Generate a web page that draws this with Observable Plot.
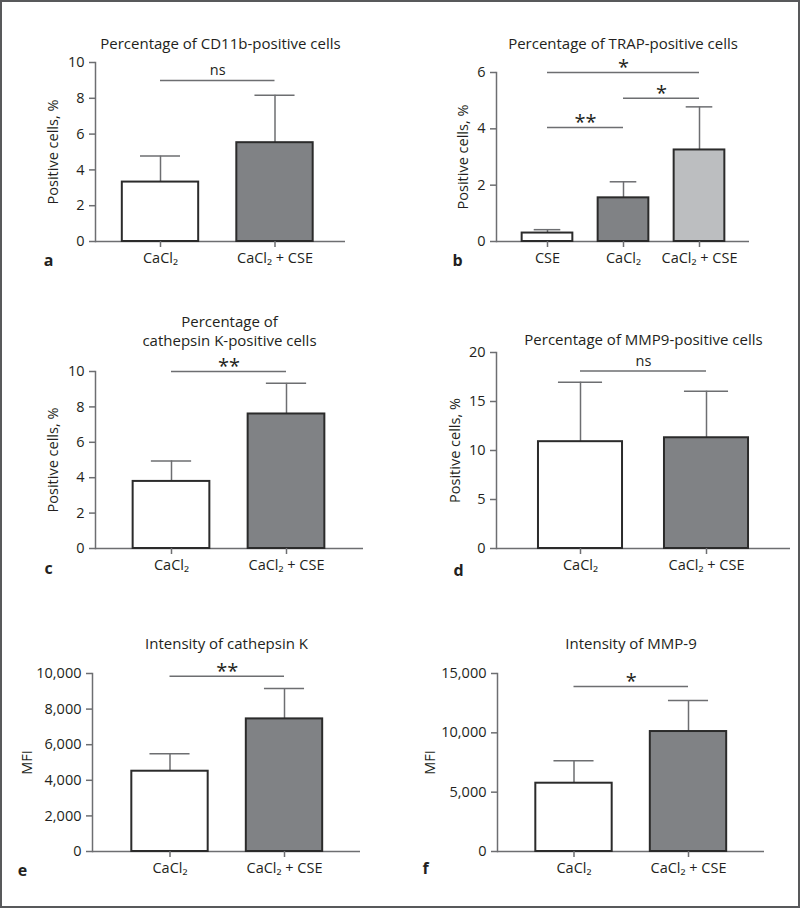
<!DOCTYPE html>
<html>
<head>
<meta charset="utf-8">
<script src="https://cdn.jsdelivr.net/npm/d3@7"></script>
<script src="https://cdn.jsdelivr.net/npm/@observablehq/plot@0.6"></script>
<style>
  html, body { margin: 0; padding: 0; background: #fff; }
  #wrap { position: relative; width: 800px; height: 908px; overflow: hidden; font-family: "Open Sans", sans-serif; }
  #border { position: absolute; left: 0; top: 0; width: 800px; height: 908px; box-sizing: border-box; border: 2px solid #58595b; pointer-events: none; }
  .panel { position: absolute; }
</style>
</head>
<body>
<div id="wrap"><div id="border"></div></div>
<script>
// ---------- data ----------
// a: CD11b
const catsA = ["CaCl₂", "CaCl₂ + CSE"];
const meanA = [3.32, 5.52];
const sdA = [1.45, 2.65];
const sigLabelA = ["ns"], sigFromA = [0], sigToA = [1], sigLevelA = [9.0];
const yTicksA = [0, 2, 4, 6, 8, 10];

// b: TRAP
const catsB = ["CSE", "CaCl₂", "CaCl₂ + CSE"];
const meanB = [0.30, 1.55, 3.25];
const sdB = [0.12, 0.57, 1.53];
const sigLabelB = ["**", "*", "*"], sigFromB = [0, 1, 0], sigToB = [1, 2, 2], sigLevelB = [4.05, 5.09, 6.0];
const yTicksB = [0, 2, 4, 6];

// c: cathepsin K-positive
const catsC = ["CaCl₂", "CaCl₂ + CSE"];
const meanC = [3.79, 7.6];
const sdC = [1.16, 1.73];
const sigLabelC = ["**"], sigFromC = [0], sigToC = [1], sigLevelC = [10.0];
const yTicksC = [0, 2, 4, 6, 8, 10];

// d: MMP9-positive
const catsD = ["CaCl₂", "CaCl₂ + CSE"];
const meanD = [10.9, 11.3];
const sdD = [6.07, 4.75];
const sigLabelD = ["ns"], sigFromD = [0], sigToD = [1], sigLevelD = [18.1];
const yTicksD = [0, 5, 10, 15, 20];

// e: intensity of cathepsin K
const catsE = ["CaCl₂", "CaCl₂ + CSE"];
const meanE = [4510, 7450];
const sdE = [980, 1705];
const sigLabelE = ["**"], sigFromE = [0], sigToE = [1], sigLevelE = [9850];
const yTicksE = [0, 2000, 4000, 6000, 8000, 10000];

// f: intensity of MMP-9
const catsF = ["CaCl₂", "CaCl₂ + CSE"];
const meanF = [5755, 10110];
const sdF = [1890, 2615];
const sigLabelF = ["*"], sigFromF = [0], sigToF = [1], sigLevelF = [13900];
const yTicksF = [0, 5000, 10000, 15000];

// ---------- styles ----------
const FILL2 = ["#ffffff", "#808285"];
const FILL3 = ["#ffffff", "#808285", "#bcbec0"];
const AXIS = "#6d6e71";
const INK = "#231f20";
const BAR_FRAC = 0.667;
const CAP_FRAC = 0.35;
const FONT = "Open Sans, sans-serif";

const panels = [
  {letter: "a", left: 0, top: 0, width: 400, height: 300, m: [62, 55, 59, 95], centers: [160, 274.5],
   cats: catsA, mean: meanA, sd: sdA, sig: [sigLabelA, sigFromA, sigToA, sigLevelA], yDomain: [0, 10], yTicks: yTicksA,
   fmt: d3.format("d"), title: "Percentage of CD11b-positive cells", titleDy: -20, yLabel: "Positive cells, %", labelDx: -42,
   letterDx: -47, letterDy: 19, fills: FILL2},
  {letter: "b", left: 400, top: 0, width: 400, height: 300, m: [72, 51, 59, 96], centers: [147, 222.5, 299],
   cats: catsB, mean: meanB, sd: sdB, sig: [sigLabelB, sigFromB, sigToB, sigLevelB], yDomain: [0, 6], yTicks: yTicksB,
   fmt: d3.format("d"), title: "Percentage of TRAP-positive cells", titleDy: -30, yLabel: "Positive cells, %", labelDx: -33,
   letterDx: -39, letterDy: 19, fills: FILL3},
  {letter: "c", left: 0, top: 300, width: 400, height: 300, m: [71, 37, 52, 95], centers: [171, 286],
   cats: catsC, mean: meanC, sd: sdC, sig: [sigLabelC, sigFromC, sigToC, sigLevelC], yDomain: [0, 10], yTicks: yTicksC,
   fmt: d3.format("d"), title: "Percentage of\ncathepsin K-positive cells", titleDy: -41, yLabel: "Positive cells, %", labelDx: -42,
   letterDx: -47, letterDy: 20, fills: FILL2},
  {letter: "d", left: 400, top: 300, width: 400, height: 300, m: [52, 10, 52, 96], centers: [180, 306],
   cats: catsD, mean: meanD, sd: sdD, sig: [sigLabelD, sigFromD, sigToD, sigLevelD], yDomain: [0, 20], yTicks: yTicksD,
   fmt: d3.format("d"), title: "Percentage of MMP9-positive cells", titleDy: -14, yLabel: "Positive cells, %", labelDx: -41,
   letterDx: -38, letterDy: 22, fills: FILL2},
  {letter: "e", left: 0, top: 600, width: 400, height: 308, m: [73, 40, 57, 92], centers: [169.5, 284],
   cats: catsE, mean: meanE, sd: sdE, sig: [sigLabelE, sigFromE, sigToE, sigLevelE], yDomain: [0, 10000], yTicks: yTicksE,
   fmt: d3.format(","), title: "Intensity of cathepsin K", titleDy: -31, yLabel: "MFI", labelDx: -65,
   letterDx: -70, letterDy: 19, fills: FILL2},
  {letter: "f", left: 400, top: 600, width: 400, height: 308, m: [73, 36, 57, 97], centers: [173.5, 288],
   cats: catsF, mean: meanF, sd: sdF, sig: [sigLabelF, sigFromF, sigToF, sigLevelF], yDomain: [0, 15000], yTicks: yTicksF,
   fmt: d3.format(","), title: "Intensity of MMP-9", titleDy: -31, yLabel: "MFI", labelDx: -67,
   letterDx: -72, letterDy: 17, fills: FILL2}
];

const wrap = document.getElementById("wrap");

for (const p of panels) {
  const rows = p.cats.map((c, i) => ({i, cat: c, mean: p.mean[i], top: p.mean[i] + p.sd[i], fill: p.fills[i]}));
  const [sl, sf, st, sy] = p.sig;
  const sig = sl.map((label, k) => ({label, from: sf[k], to: st[k], y: sy[k]}));
  const n = p.cats.length;
  const [mt, mr, mb, ml] = p.m;

  const chart = Plot.plot({
    width: p.width,
    height: p.height,
    marginTop: mt, marginRight: mr, marginBottom: mb, marginLeft: ml,
    style: {fontFamily: FONT, fontSize: "14px", color: INK, background: "transparent"},
    x: {type: "linear", domain: [0, n - 1], range: [p.centers[0], p.centers[n - 1]]},
    y: {domain: p.yDomain},
    color: {type: "identity"},
    marks: [
      Plot.ruleX(rows, {x: "i", y1: "mean", y2: "top", stroke: AXIS, strokeWidth: 1.5}),
      Plot.ruleY(rows, {y: "top", x1: d => d.i - CAP_FRAC / 2, x2: d => d.i + CAP_FRAC / 2, stroke: AXIS, strokeWidth: 1.5}),
      Plot.ruleY([0], {stroke: AXIS, strokeWidth: 1.5}),
      Plot.frame({anchor: "left", stroke: AXIS, strokeWidth: 1.5}),
      Plot.rect(rows, {x1: d => d.i - BAR_FRAC / 2, x2: d => d.i + BAR_FRAC / 2, y1: 0, y2: "mean",
        fill: "fill", stroke: "#2b2b2b", strokeWidth: 2}),
      Plot.axisY({ticks: p.yTicks, tickFormat: p.fmt, tickSize: 6, tickPadding: 5, stroke: AXIS, strokeWidth: 1.5,
        fill: INK, fontSize: 14.5, label: null}),
      Plot.axisX({ticks: d3.range(n), tickFormat: i => p.cats[i], tickSize: 6, tickPadding: 5, stroke: AXIS, strokeWidth: 1.5,
        fill: INK, fontSize: 14.5, label: null}),
      Plot.ruleY(sig, {y: "y", x1: "from", x2: "to", stroke: AXIS, strokeWidth: 1.5}),
      Plot.text(sig.filter(d => d.label === "ns"), {x: d => (d.from + d.to) / 2, y: "y", text: "label", dy: -10, fontSize: 14.5, fill: INK}),
      Plot.text(sig.filter(d => d.label !== "ns"), {x: d => (d.from + d.to) / 2, y: "y", text: "label", dy: -5, fontSize: 20, fill: INK}),
      Plot.text([p.title], {text: d => d, frameAnchor: "top", lineAnchor: "middle", textAnchor: "middle", dy: p.titleDy,
        fontSize: 15, fill: INK, lineHeight: 1.25}),
      Plot.text([p.yLabel], {text: d => d, frameAnchor: "left", lineAnchor: "middle", textAnchor: "middle", rotate: -90,
        dx: p.labelDx, fontSize: 14.5, fill: INK}),
      Plot.text([p.letter], {text: d => d, frameAnchor: "bottom-left", lineAnchor: "middle", textAnchor: "middle",
        dx: p.letterDx, dy: p.letterDy, fontSize: 16, fontWeight: "bold", fill: INK})
    ]
  });
  const holder = document.createElement("div");
  holder.className = "panel";
  holder.style.left = p.left + "px";
  holder.style.top = p.top + "px";
  holder.appendChild(chart);
  wrap.insertBefore(holder, document.getElementById("border"));
}
</script>
</body>
</html>
